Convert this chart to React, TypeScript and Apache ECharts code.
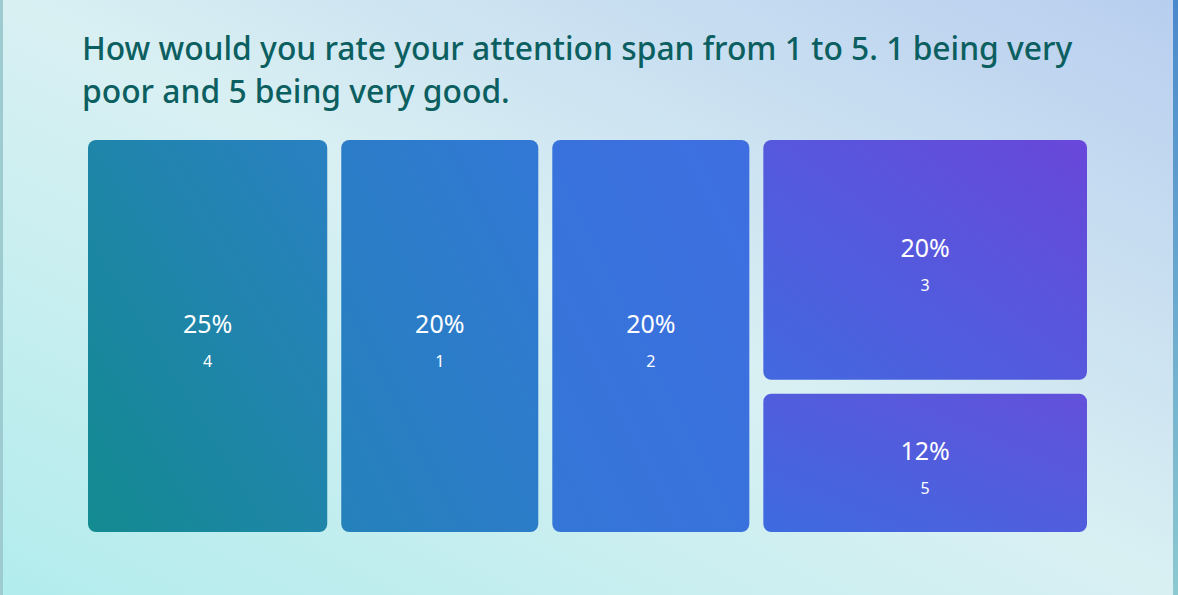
import React, { useEffect, useRef } from "react";
import * as echarts from "echarts";

// Data
const titleText =
  "How would you rate your attention span from 1 to 5. 1 being very\npoor and 5 being very good.";
const categories = ["4", "1", "2", "3", "5"];
const counts = [6, 5, 5, 5, 3]; // respondents (tile sizes)
const percents = [25, 20, 20, 20, 12]; // displayed percentages

// Styling (tile gradients: bottom-left -> top-right)
const tileColors: [string, string][] = [
  ["#138A90", "#2A80C2"],
  ["#2581BA", "#3278D6"],
  ["#3476D7", "#3E6EE1"],
  ["#4269DF", "#6947DA"],
  ["#3E6BDF", "#6350DA"],
];
const PCT_LINE = 50;
const NUM_LINE = 26;

export default function App() {
  const ref = useRef<HTMLDivElement>(null);

  useEffect(() => {
    if (!ref.current) return;
    const chart = echarts.init(ref.current, undefined, { renderer: "svg" });
    const data = categories.map((name, i) => ({
      name,
      value: counts[i],
      pct: percents[i],
      itemStyle: {
        color: new echarts.graphic.LinearGradient(0, 1, 1, 0, [
          { offset: 0, color: tileColors[i][0] },
          { offset: 1, color: tileColors[i][1] },
        ]),
      },
    }));
    chart.setOption({
      animation: false,
      backgroundColor: "transparent",
      title: {
        text: titleText,
        left: 77,
        top: 21,
        textStyle: {
          fontFamily: "'Noto Sans', sans-serif",
          fontSize: 31.8,
          fontWeight: 500,
          lineHeight: 43,
          color: "#0C5F60",
        },
      },
      series: [
        {
          type: "treemap",
          left: 88,
          top: 140,
          width: 999,
          height: 392,
          squareRatio: 1,
          sort: false,
          roam: false,
          nodeClick: false,
          breadcrumb: { show: false },
          emphasis: { disabled: true },
          itemStyle: { borderColor: "rgba(0,0,0,0)", borderWidth: 0 },
          levels: [
            { itemStyle: { gapWidth: 14, borderWidth: 0, borderColor: "rgba(0,0,0,0)" } },
            { itemStyle: { borderRadius: 8, borderWidth: 0 } },
          ],
          label: {
            show: true,
            position: "inside",
            padding: 0,
            align: "center",
            verticalAlign: "top",
            color: "#fff",
            fontFamily: "'Noto Sans', sans-serif",
            formatter: (p: any) => `{a|${p.data.pct}%}\n{b|${p.name}}`,
            rich: {
              a: { fontSize: 25, lineHeight: PCT_LINE, color: "#fff", fontFamily: "'Noto Sans', sans-serif" },
              b: { fontSize: 16, lineHeight: NUM_LINE, color: "#fff", fontFamily: "'Noto Sans', sans-serif" },
            },
          },
          labelLayout: (params: any) => ({
            x: params.rect.x + params.rect.width / 2,
            y: params.rect.y + params.rect.height / 2 - (PCT_LINE + NUM_LINE) / 2,
            align: "center",
            verticalAlign: "top",
          }),
          data,
        },
      ],
    });
    return () => chart.dispose();
  }, []);

  return (
    <div
      style={{
        position: "fixed",
        left: 0,
        top: 0,
        width: 1178,
        height: 595,
        overflow: "hidden",
        background:
          "linear-gradient(to top right, #B2ECEC 0%, #D9F0F3 50%, #B8CEEF 100%)",
      }}
    >
      <div ref={ref} style={{ position: "absolute", left: 0, top: 0, width: 1178, height: 595 }} />
      <div style={{ position: "absolute", left: 0, top: 0, width: 3, height: 595, background: "#9ECBCF" }} />
      <div
        style={{
          position: "absolute",
          right: 0,
          top: 0,
          width: 5,
          height: 595,
          background: "linear-gradient(to bottom, #4A88CC, #8CC9D0)",
        }}
      />
    </div>
  );
}
